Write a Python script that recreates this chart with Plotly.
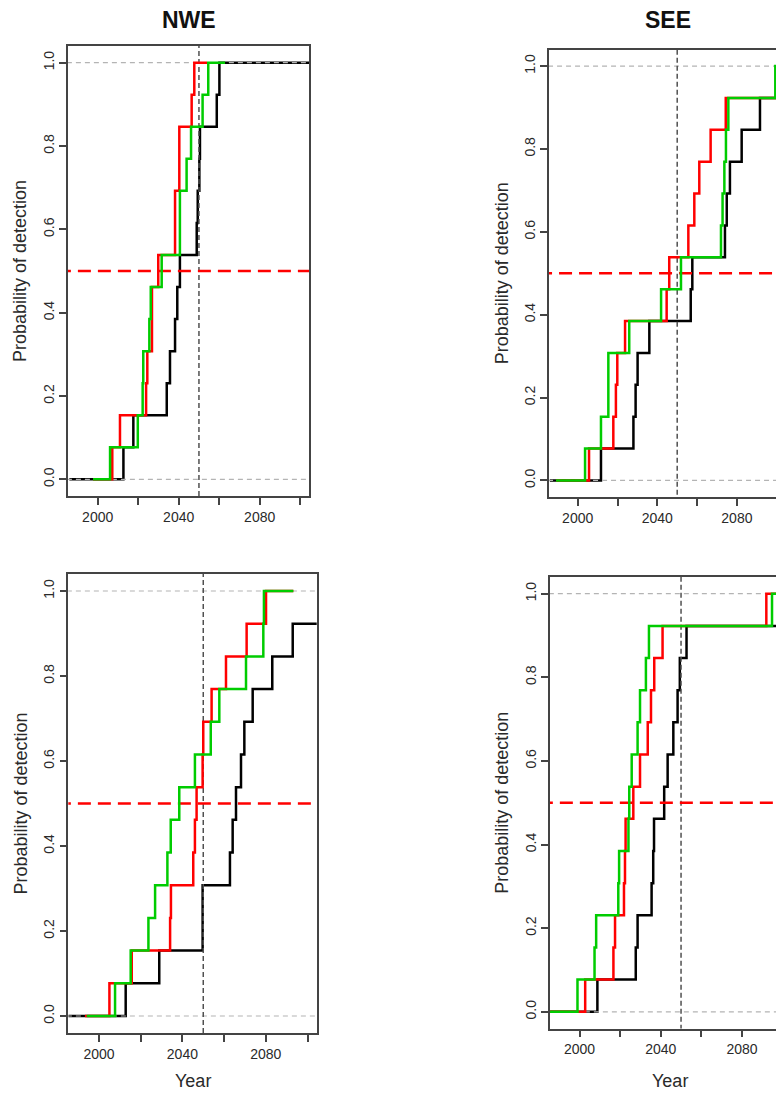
import plotly.graph_objects as go

# ---------------- data ----------------
N_SITES = 13
X_TICKS = [2000, 2020, 2040, 2060, 2080, 2100]
X_TICK_TEXT = ["2000", "", "2040", "", "2080", ""]
Y_TICKS = [0.0, 0.2, 0.4, 0.6, 0.8, 1.0]
Y_TICK_TEXT = ["0.0", "0.2", "0.4", "0.6", "0.8", "1.0"]
TARGET_YEAR = 2050
THRESHOLD = 0.5
PANEL_TITLES = ["NWE", "SEE", "", ""]

# Panel 1 (NWE) - detection years (one entry per site detected)
p1_black_years = [2012.7, 2017.6, 2034.1, 2035.7, 2038.2, 2039.3, 2040.6,
                  2048.9, 2049.4, 2050.2, 2050.5, 2058.8, 2060.1]
p1_red_years = [2007.2, 2011.0, 2023.9, 2024.5, 2026.8, 2026.8, 2029.9,
                2038.2, 2038.2, 2040.3, 2040.3, 2046.4, 2047.7]
p1_green_years = [2006.1, 2019.8, 2022.2, 2022.5, 2025.5, 2026.2, 2031.6,
                  2040.6, 2040.6, 2043.9, 2046.1, 2051.8, 2054.6]
p1_start = {"black": 1986.0, "red": 1997.7, "green": 1997.7}
p1_end = {"black": 2106.0, "red": 2054.0, "green": 2062.9}

# Panel 2 (SEE)
p2_black_years = [2011.7, 2028.0, 2029.1, 2030.1, 2036.0, 2056.8, 2057.6,
                  2074.0, 2074.9, 2076.5, 2082.4, 2091.6]
p2_red_years = [2005.7, 2017.9, 2019.2, 2019.9, 2023.8, 2044.7, 2046.0,
                2055.6, 2058.6, 2061.1, 2066.8, 2074.4]
p2_green_years = [2003.7, 2011.7, 2015.4, 2015.4, 2025.9, 2041.9, 2051.9,
                  2072.0, 2072.8, 2073.7, 2074.5, 2075.7, 2099.3]
p2_start = {"black": 1986.0, "red": 1989.1, "green": 1989.1}
p2_end = {"black": 2106.0, "red": 2106.0, "green": 2106.0}

# Panel 3 (bottom left)
p3_black_years = [2012.8, 2028.9, 2049.7, 2049.7, 2062.8, 2064.1, 2065.7,
                  2068.1, 2069.7, 2073.7, 2083.1, 2092.9]
p3_red_years = [2005.0, 2015.7, 2034.1, 2034.5, 2045.2, 2046.0, 2046.8,
                2049.7, 2050.0, 2054.0, 2060.9, 2070.8, 2080.1]
p3_green_years = [2007.7, 2015.2, 2023.7, 2026.9, 2032.8, 2034.4, 2038.5,
                  2046.0, 2053.6, 2057.7, 2070.5, 2078.8, 2079.1]
p3_start = {"black": 1985.3, "red": 1993.3, "green": 1994.1}
p3_end = {"black": 2106.0, "red": 2093.2, "green": 2093.2}

# Panel 4 (bottom right)
p4_black_years = [2008.8, 2027.7, 2028.6, 2035.5, 2036.3, 2036.7, 2041.7,
                  2043.4, 2046.2, 2048.3, 2049.4, 2052.7]
p4_red_years = [2002.8, 2016.7, 2017.5, 2021.9, 2022.4, 2022.7, 2026.5,
                2029.8, 2033.6, 2035.2, 2036.8, 2040.9, 2092.0]
p4_green_years = [1999.0, 2007.4, 2008.2, 2019.1, 2019.5, 2024.1, 2024.5,
                  2025.7, 2028.6, 2029.8, 2032.7, 2034.2, 2094.8]
p4_start = {"black": 1985.5, "red": 1985.5, "green": 1985.5}
p4_end = {"black": 2106.0, "red": 2106.0, "green": 2106.0}

PANELS = [
    {"black": p1_black_years, "red": p1_red_years, "green": p1_green_years,
     "start": p1_start, "end": p1_end},
    {"black": p2_black_years, "red": p2_red_years, "green": p2_green_years,
     "start": p2_start, "end": p2_end},
    {"black": p3_black_years, "red": p3_red_years, "green": p3_green_years,
     "start": p3_start, "end": p3_end},
    {"black": p4_black_years, "red": p4_red_years, "green": p4_green_years,
     "start": p4_start, "end": p4_end},
]

# ---------------- layout geometry (page pixels) ----------------
PAGE_OFF = 8            # default body margin of the html page
FW, FH = 776, 1086      # figure size so that it ends at the page edge
# left, right, top, bottom in page px ; x-range of axis
GEOM = [
    dict(l=68.0, r=309.0, t=46.0, b=496.0, xr=[1985.33, 2104.35]),
    dict(l=549.0, r=784.0, t=49.5, b=497.0, xr=[1985.58, 2103.67]),
    dict(l=68.3, r=316.7, t=574.0, b=1033.0, xr=[1985.28, 2104.4]),
    dict(l=550.0, r=784.0, t=577.0, b=1028.5, xr=[1985.47, 2100.7]),
]
Y_RANGE = [-0.04, 1.04]

COLORS = {"black": "#000000", "red": "#ff0000", "green": "#00cc00"}
FONT = "Liberation Sans, Arial, sans-serif"
TXT = "#2a2a2a"
LW = 2.5


def fx(px):
    return min(max((px - PAGE_OFF) / FW, 0.0), 1.0)


def fy(py):
    return min(max(1 - (py - PAGE_OFF) / FH, 0.0), 1.0)


def step_xy(start, years, end):
    xs = [start] + list(years) + [end]
    ys = [0.0] + [(i + 1) / N_SITES for i in range(len(years))] + [len(years) / N_SITES]
    return xs, ys


fig = go.Figure()

for i, (pan, g) in enumerate(zip(PANELS, GEOM)):
    k = "" if i == 0 else str(i + 1)
    xa, ya = "x" + k, "y" + k
    x0, x1 = g["xr"][0] - 5, g["xr"][1] + 5

    def add_series(name):
        xs, ys = step_xy(pan["start"][name], pan[name], pan["end"][name])
        fig.add_trace(go.Scatter(x=xs, y=ys, mode="lines", line_shape="hv",
                                 line=dict(color=COLORS[name], width=LW),
                                 xaxis=xa, yaxis=ya, showlegend=False,
                                 hoverinfo="skip"))

    add_series("black")
    # grey reference lines at 0 and 1
    for yv in (0.0, 1.0):
        fig.add_trace(go.Scatter(x=[x0, x1], y=[yv, yv], mode="lines",
                                 line=dict(color="#b4b4b4", width=1.2, dash="5px,4px"),
                                 xaxis=xa, yaxis=ya, showlegend=False, hoverinfo="skip"))
    # vertical target year
    fig.add_trace(go.Scatter(x=[TARGET_YEAR, TARGET_YEAR], y=[-1, 2], mode="lines",
                             line=dict(color="#505050", width=1.5, dash="5px,3px"),
                             xaxis=xa, yaxis=ya, showlegend=False, hoverinfo="skip"))
    # red threshold
    fig.add_trace(go.Scatter(x=[x0, x1], y=[THRESHOLD, THRESHOLD], mode="lines",
                             line=dict(color="#ff0000", width=2.5, dash="13px,7px"),
                             xaxis=xa, yaxis=ya, showlegend=False, hoverinfo="skip"))
    add_series("red")
    add_series("green")

    right_panel = i in (1, 3)
    fig.layout["xaxis" + k] = dict(
        domain=[fx(g["l"]), fx(g["r"])], range=g["xr"], anchor=ya,
        showgrid=False, zeroline=False, showline=True, mirror=True,
        linecolor="#444", linewidth=1.5, ticks="outside", ticklen=7,
        tickwidth=1.5, tickcolor="#444", tickvals=X_TICKS, ticktext=X_TICK_TEXT,
        tickfont=dict(family=FONT, size=14, color=TXT),
    )
    fig.layout["yaxis" + k] = dict(
        domain=[fy(g["b"]), fy(g["t"])], range=Y_RANGE, anchor=xa,
        showgrid=False, zeroline=False, showline=True,
        mirror=(not right_panel), linecolor="#444", linewidth=1.5,
        ticks="outside", ticklen=7, tickwidth=1.5, tickcolor="#444",
        tickvals=Y_TICKS, ticktext=Y_TICK_TEXT, tickangle=-90,
        tickfont=dict(family=FONT, size=14, color=TXT),
    )

annotations = []
# panel titles
TITLE_X = [188.5, 667.5]
for i in range(2):
    annotations.append(dict(text="<b>%s</b>" % PANEL_TITLES[i], x=fx(TITLE_X[i]),
                            y=fy(20), xref="paper", yref="paper",
                            showarrow=False, xanchor="center", yanchor="middle",
                            font=dict(family=FONT, size=23, color="#111")))
# y titles
for i, g in enumerate(GEOM):
    cx = 20 if i in (0, 2) else 502
    cy = (g["t"] + g["b"]) / 2
    annotations.append(dict(text="Probability of detection", x=fx(cx), y=fy(cy),
                            xref="paper", yref="paper", showarrow=False,
                            textangle=-90, xanchor="center", yanchor="middle",
                            font=dict(family=FONT, size=18, color=TXT)))
# x titles
for cx in (192.5, 670.0):
    annotations.append(dict(text="Year", x=fx(cx), y=fy(1081),
                            xref="paper", yref="paper", showarrow=False,
                            xanchor="center", yanchor="middle",
                            font=dict(family=FONT, size=18, color=TXT)))

fig.update_layout(width=FW, height=FH, margin=dict(l=0, r=0, t=0, b=0),
                  paper_bgcolor="white", plot_bgcolor="white",
                  annotations=annotations, showlegend=False)

fig.write_html("out.html")
